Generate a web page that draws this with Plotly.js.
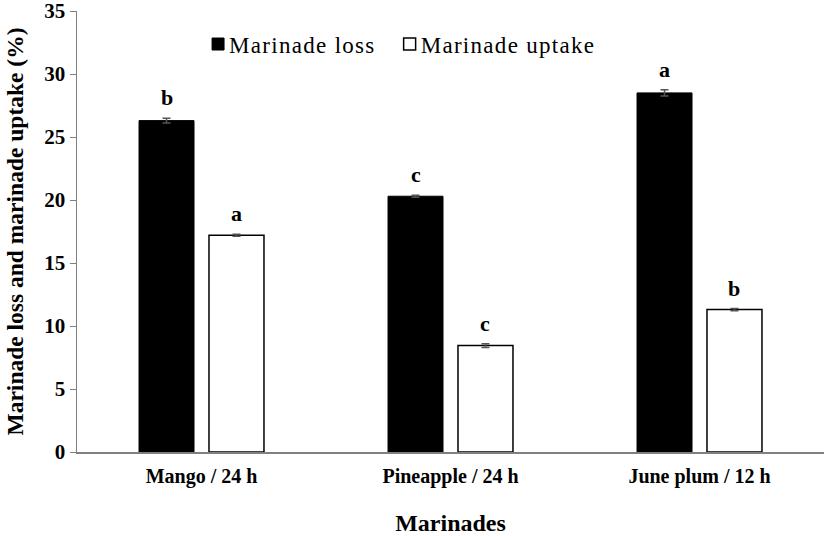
<!DOCTYPE html>
<html>
<head>
<meta charset="utf-8">
<script src="https://cdn.plot.ly/plotly-3.0.1.min.js"></script>
<style>
html,body{margin:0;padding:0;background:#fff;}
#chart{width:827px;height:536px;}
.legendtext{letter-spacing:1.3px;}
#chart .legendpoints{transform:translateX(9px);}
</style>
</head>
<body>
<div id="chart"></div>
<script>
const categories = ["Mango / 24 h", "Pineapple / 24 h", "June plum / 12 h"];
const lossValues = [26.3, 20.3, 28.5];
const lossErrors = [0.18, 0.08, 0.25];
const lossLetters = ["b", "c", "a"];
const uptakeValues = [17.2, 8.45, 11.3];
const uptakeErrors = [0.08, 0.15, 0.08];
const uptakeLetters = ["a", "c", "b"];
const yTickVals = [0, 5, 10, 15, 20, 25, 30, 35];
const yTickText = ["0", "5", "10", "15", "20", "25", "30", "35"];

const FONT = "'Liberation Serif', 'Times New Roman', serif";
const BARGAP = 0.438;
const slot = (1 - BARGAP) / 2;

const traces = [
  {
    type: "bar", name: "Marinade loss", x: categories, y: lossValues,
    marker: {color: "#000000", line: {color: "#000000", width: 1}},
    error_y: {type: "data", array: lossErrors, visible: true, color: "#555555", thickness: 1.5, width: 4}
  },
  {
    type: "bar", name: "Marinade uptake", x: categories, y: uptakeValues,
    marker: {color: "#ffffff", line: {color: "#000000", width: 1.5}},
    error_y: {type: "data", array: uptakeErrors, visible: true, color: "#555555", thickness: 1.5, width: 4}
  }
];

const annotations = [];
categories.forEach((c, i) => {
  annotations.push({x: i - slot / 2, y: lossValues[i] + lossErrors[i], xref: "x", yref: "y",
    text: "<b>" + lossLetters[i] + "</b>", showarrow: false, yanchor: "bottom", yshift: 6,
    font: {family: FONT, size: 22, color: "#000"}});
  annotations.push({x: i + slot / 2, y: uptakeValues[i] + uptakeErrors[i], xref: "x", yref: "y",
    text: "<b>" + uptakeLetters[i] + "</b>", showarrow: false, yanchor: "bottom", yshift: 6,
    font: {family: FONT, size: 22, color: "#000"}});
});

const layout = {
  width: 827, height: 536,
  margin: {l: 77, r: 3, t: 11, b: 84},
  paper_bgcolor: "#ffffff", plot_bgcolor: "#ffffff",
  barmode: "group", bargap: BARGAP, bargroupgap: 0.214,
  font: {family: FONT, color: "#000"},
  showlegend: true,
  legend: {orientation: "h", x: 0.15, y: 0.925, xanchor: "left", yanchor: "middle",
    font: {family: FONT, size: 23, color: "#000"}, bgcolor: "rgba(0,0,0,0)", itemwidth: 30},
  xaxis: {
    type: "category", range: [-0.5, 2.5],
    showline: true, linecolor: "#808080", linewidth: 1.5, ticks: "", showgrid: false, zeroline: false,
    ticklabelstandoff: 5,
    tickfont: {family: FONT, size: 20, color: "#000", weight: "bold"},
    title: {text: "<b>Marinades</b>", font: {family: FONT, size: 24, color: "#000"}, standoff: 27},
    automargin: false
  },
  yaxis: {
    range: [0, 35.0001], tickmode: "array", tickvals: yTickVals, ticktext: yTickText,
    showline: true, linecolor: "#808080", linewidth: 1.5, ticks: "outside", ticklen: 6, tickcolor: "#808080",
    showgrid: false, zeroline: false, ticklabeloverflow: "allow",
    tickfont: {family: FONT, size: 21, color: "#000", weight: "bold"},
    title: {text: "<b>Marinade loss and marinade uptake (%)</b>", font: {family: FONT, size: 23.5, color: "#000"}, standoff: 14},
    automargin: false
  },
  annotations: annotations
};

Plotly.newPlot("chart", traces, layout, {displayModeBar: false, staticPlot: true});
</script>
</body>
</html>
